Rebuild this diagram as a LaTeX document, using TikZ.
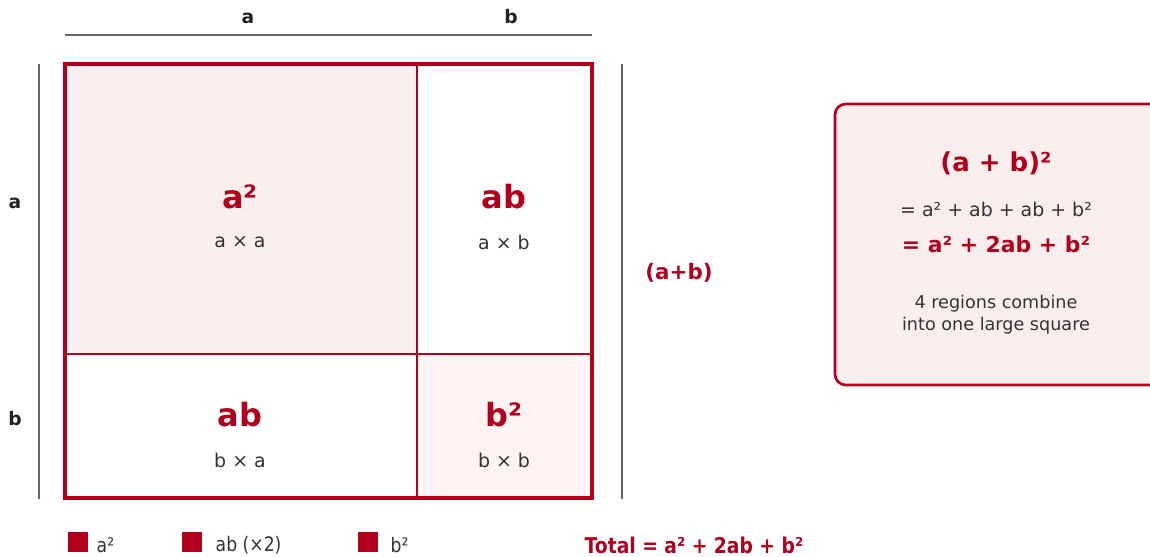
\documentclass[tikz,border=0pt]{standalone}
\usepackage{fontspec}
\setmainfont{DejaVu Sans}
\newfontfamily\condfont[FakeStretch=0.86]{DejaVu Sans}
\definecolor{crim}{HTML}{B0001E}
\definecolor{dark}{HTML}{222222}
\definecolor{txt}{HTML}{333333}
\definecolor{rule}{HTML}{666666}
\definecolor{fillA}{HTML}{F8EEEE}
\definecolor{fillB}{HTML}{FDF3F3}
\tikzset{
  dimlbl/.style={font=\fontsize{14}{16}\selectfont\bfseries, text=dark},
  biglbl/.style={font=\fontsize{24}{28}\selectfont\bfseries, text=crim},
  sublbl/.style={font=\fontsize{14.2}{16}\selectfont, text=txt},
  rulel/.style={draw=rule, line width=1.5pt},
  legsq/.style={fill=crim, minimum size=15pt, inner sep=0pt},
  legtxt/.style={font=\condfont\fontsize{15}{18}\selectfont, text=txt, anchor=west},
}
\begin{document}
\begin{tikzpicture}[x=0.75pt,y=-0.75pt]
\useasboundingbox (0,0) rectangle (1150,557);
% corner coordinates
\coordinate (TL) at (65,64);
\coordinate (BR) at (592,498);
\coordinate (topL) at (65,35);
\coordinate (topR) at (592,35);
\coordinate (lT) at (39,64);
\coordinate (lB) at (39,499);
\coordinate (rT) at (622,64);
\coordinate (rB) at (622,499);
% fills
\fill[fillA] (65,64) rectangle (417,354);
\fill[fillB] (417,354) rectangle (592,498);
% inner lines
\draw[crim, line width=2pt] (417,64) -- (417,498);
\draw[crim, line width=2pt] (65,354) -- (592,354);
% outer border
\draw[crim, line width=3pt] (TL) rectangle (BR);
% dimension rules
\draw[rulel] (topL) -- (topR);
\draw[rulel] (lT) -- (lB);
\draw[rulel] (rT) -- (rB);
% dimension labels
\node[dimlbl] (ta) at (248,18) {a};
\node[dimlbl] (tb) at (511,17) {b};
\node[dimlbl] (la) at (15,203) {a};
\node[dimlbl] (lb) at (15,419) {b};
% region labels
\node[biglbl] (A2) at (240,197) {a²};
\node[sublbl] (A2s) at (240,242) {a × a};
\node[biglbl] (AB1) at (504,197) {ab};
\node[sublbl] (AB1s) at (504,242) {a × b};
\node[biglbl] (AB2) at (240,415) {ab};
\node[sublbl] (AB2s) at (240,460) {b × a};
\node[biglbl] (B2) at (504,415) {b²};
\node[sublbl] (B2s) at (504,460) {b × b};
% (a+b)
\node[font=\fontsize{16}{19}\selectfont\bfseries, text=crim] (apb) at (679,273) {(a+b)};
% right box
\draw[crim, line width=2pt, fill=fillA, rounded corners=8pt] (835,104) rectangle (1165,385);
\node[font=\fontsize{19.5}{22}\selectfont\bfseries, text=crim] (f1) at (996,163) {(a + b)²};
\node[font=\fontsize{14.2}{16}\selectfont, text=txt] (f2) at (996,209) {= a² + ab + ab + b²};
\node[font=\fontsize{16.4}{19}\selectfont\bfseries, text=crim] (f3) at (996,244) {= a² + 2ab + b²};
\node[font=\fontsize{13.2}{16.5}\selectfont, text=txt, align=center] (f4) at (996,315) {4 regions combine\\into one large square};
% legend
\node[legsq] (s1) at (78,542) {};
\node[legtxt] (t1) at (92,545) {a²};
\node[legsq] (s2) at (192,542) {};
\node[legtxt] (t2) at (211,545) {ab (×2)};
\node[legsq] (s3) at (368,542) {};
\node[legtxt] (t3) at (386,545) {b²};
\node[font=\condfont\fontsize{16.3}{19}\selectfont\bfseries, text=crim, anchor=west] (tot) at (580,545) {Total = a² + 2ab + b²};
\end{tikzpicture}
\end{document}
